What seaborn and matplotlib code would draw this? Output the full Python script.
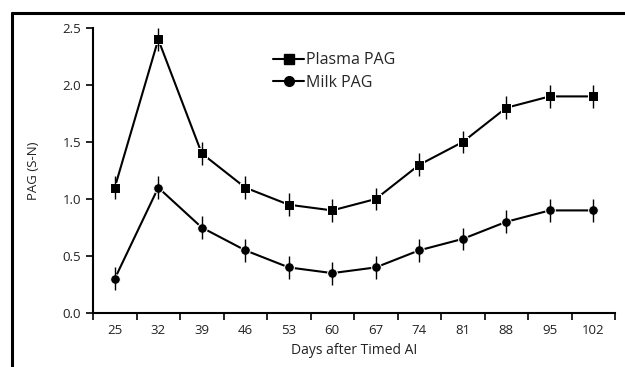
import numpy as np
import pandas as pd
import matplotlib
matplotlib.use("Agg")
import matplotlib.pyplot as plt
import seaborn as sns
from matplotlib.lines import Line2D

sns.set_style("white")
plt.rcParams["font.family"] = ["Open Sans", "DejaVu Sans"]

days = ["25", "32", "39", "46", "53", "60", "67", "74", "81", "88", "95", "102"]
plasma = [1.1, 2.4, 1.4, 1.1, 0.95, 0.9, 1.0, 1.3, 1.5, 1.8, 1.9, 1.9]
milk = [0.3, 1.1, 0.75, 0.55, 0.4, 0.35, 0.4, 0.55, 0.65, 0.8, 0.9, 0.9]
plasma_err = [0.1] * len(days)
milk_err = [0.1] * len(days)

df = pd.DataFrame({
    "day": days * 2,
    "pag": plasma + milk,
    "series": ["Plasma PAG"] * len(days) + ["Milk PAG"] * len(days),
})

fig = plt.figure(figsize=(6.25, 3.67), dpi=100)
ax = fig.add_axes([0.1488, 0.1471, 0.984 - 0.1488, 0.9237 - 0.1471])

sns.lineplot(data=df, x="day", y="pag", style="series", markers={"Plasma PAG": "s", "Milk PAG": "o"},
             dashes=False, color="black", linewidth=1.5, markersize=7, ax=ax, legend=False)
pos = np.arange(len(days))
ax.errorbar(pos, plasma, yerr=plasma_err, fmt="none", ecolor="black", elinewidth=1, capsize=0)
ax.errorbar(pos, milk, yerr=milk_err, fmt="none", ecolor="black", elinewidth=1, capsize=0)

ax.set_xlim(-0.5, len(days) - 0.5)
ax.set_ylim(0, 2.5)
ax.set_yticks([0, 0.5, 1.0, 1.5, 2.0, 2.5])
ax.set_yticklabels(["0.0", "0.5", "1.0", "1.5", "2.0", "2.5"])
ax.set_xticks(pos)
ax.set_xticklabels(days)
ax.set_xticks(np.arange(-0.5, len(days), 1.0), minor=True)
ax.tick_params(axis="x", which="major", length=0, pad=8, labelsize=9.5, colors="#222222")
ax.tick_params(axis="x", which="minor", length=5, width=1.2, direction="out", color="black", bottom=True)
ax.tick_params(axis="y", length=5, width=1.2, direction="out", color="black", left=True, labelsize=9.5,
               colors="#222222")

for s in ["top", "right"]:
    ax.spines[s].set_visible(False)
for s in ["left", "bottom"]:
    ax.spines[s].set_color("black")
    ax.spines[s].set_linewidth(1.5)

ax.set_xlabel("Days after Timed AI", fontsize=10, color="#222222", labelpad=4)
ax.set_ylabel("PAG (S-N)", fontsize=9.5, color="#222222", labelpad=16)

handles = [
    Line2D([], [], color="black", marker="s", markersize=7, linewidth=1.5),
    Line2D([], [], color="black", marker="o", markersize=7, linewidth=1.5),
]
ax.legend(handles, ["Plasma PAG", "Milk PAG"], loc="upper left", bbox_to_anchor=(0.318, 0.965),
          frameon=False, fontsize=11.5, handlelength=1.9, handletextpad=0.15, labelspacing=0.4)

# outer frame (top and left edges)
fig.add_artist(Line2D([12 / 625, 12 / 625], [0, 1 - 13 / 367], color="black", linewidth=2.2,
                      transform=fig.transFigure))
fig.add_artist(Line2D([12 / 625, 1], [1 - 13 / 367, 1 - 13 / 367], color="black", linewidth=2.2,
                      transform=fig.transFigure))

fig.savefig("out.png", dpi=100)
